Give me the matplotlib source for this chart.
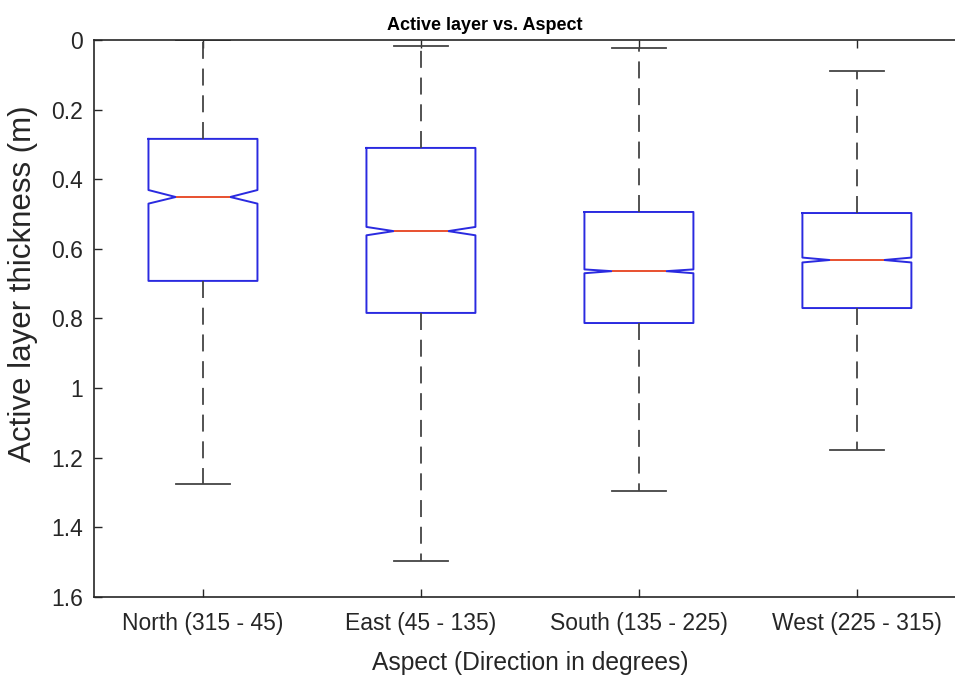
import matplotlib
matplotlib.use("Agg")
import matplotlib.pyplot as plt

plt.rcParams['font.family'] = ['Liberation Sans', 'DejaVu Sans']

categories = ['North (315 - 45)', 'East (45 - 135)', 'South (135 - 225)', 'West (225 - 315)']
whisker_low = [0.0, 0.017, 0.023, 0.089]
q1 = [0.284, 0.310, 0.494, 0.497]
median = [0.451, 0.549, 0.664, 0.632]
q3 = [0.692, 0.784, 0.813, 0.770]
whisker_high = [1.275, 1.497, 1.296, 1.178]
notch_lo = [0.431, 0.537, 0.659, 0.625]
notch_hi = [0.470, 0.561, 0.670, 0.639]

stats = []
for i, name in enumerate(categories):
    stats.append(dict(label=name, whislo=whisker_low[i], q1=q1[i], med=median[i],
                      q3=q3[i], whishi=whisker_high[i], cilo=notch_lo[i],
                      cihi=notch_hi[i], fliers=[]))

fig = plt.figure(figsize=(9.55, 6.77), dpi=100)
ax = fig.add_axes([0.0984, 0.1182, 0.913, 0.8227])

ax.bxp(stats, positions=[1, 2, 3, 4], widths=0.5, shownotches=True,
       showfliers=False,
       boxprops=dict(color='#2a2ae0', linewidth=1.4),
       medianprops=dict(color='#e8502f', linewidth=1.4),
       whiskerprops=dict(color='#444444', linewidth=1.3, linestyle=(0, (9.4, 5.4))),
       capprops=dict(color='#444444', linewidth=1.3))

gray = '#262626'
ax.set_xlim(0.5, 4.5)
ax.set_ylim(1.6, 0)
ax.set_yticks([0, 0.2, 0.4, 0.6, 0.8, 1.0, 1.2, 1.4, 1.6])
ax.set_yticklabels(['0', '0.2', '0.4', '0.6', '0.8', '1', '1.2', '1.4', '1.6'])
ax.tick_params(direction='in', length=6, width=1, colors=gray, labelsize=16.5,
               top=True, right=True)
ax.tick_params(axis='x', pad=11)
ax.tick_params(axis='y', pad=8)
for s in ax.spines.values():
    s.set_color(gray)
    s.set_linewidth(1.2)

ax.set_title('Active layer vs. Aspect', fontsize=13, fontweight='bold',
             color='black', x=0.448, pad=7)
ax.set_xlabel('Aspect (Direction in degrees)', fontsize=17.7, color=gray, labelpad=11)
ax.set_ylabel('Active layer thickness (m)', fontsize=22.5, color=gray)
ax.yaxis.set_label_coords(-0.064, 0.562)

fig.savefig('out.png', dpi=100)
